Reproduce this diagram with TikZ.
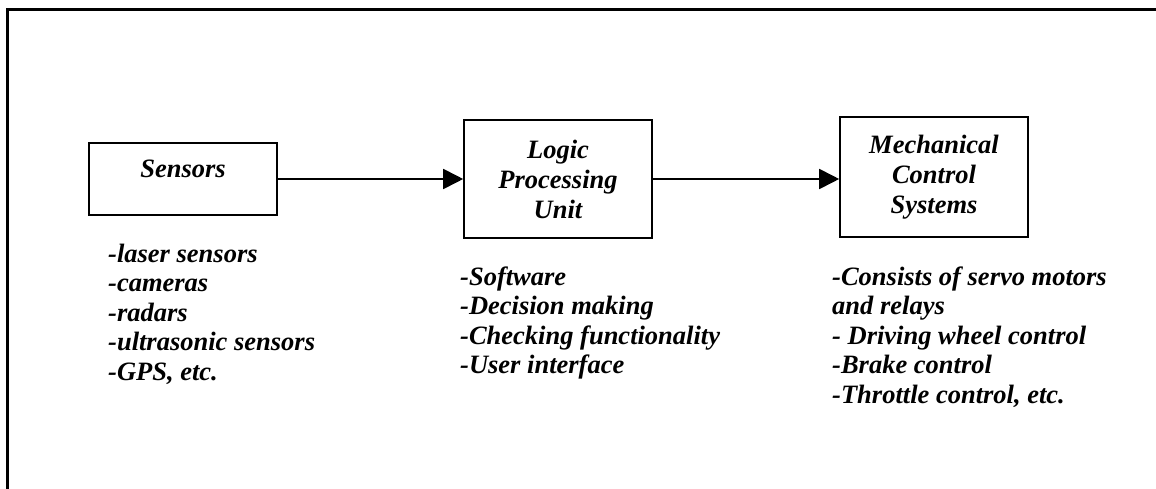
\documentclass[tikz,border=0pt]{standalone}
\usepackage{fontspec}
\setmainfont{Liberation Serif}
\usetikzlibrary{arrows.meta}
\newcommand{\blockfont}{\fontsize{26.5}{30}\selectfont\bfseries\itshape}
\newcommand{\listfont}{\fontsize{26.5}{29.5}\selectfont\bfseries\itshape}
\tikzset{
  block/.style={draw, line width=1.6pt, minimum width=188pt, inner sep=0pt,
                align=center, font=\blockfont},
  itemlist/.style={anchor=base west, inner sep=0pt, font=\listfont},
  flow/.style={line width=1.8pt, -{Triangle[length=20pt,width=20pt]}},
  frameline/.style={line width=2.5pt, line cap=rect}
}
\begin{document}
\begin{tikzpicture}[x=1pt, y=-1pt]
  \useasboundingbox (0,0) rectangle (1156,489);
  % outer frame (only top and left edges fall inside the page)
  \draw[frameline] (7.5,489) -- (7.5,9.5) -- (1156,9.5);

  % blocks
  \node[block, minimum height=72pt, text height=17pt, text depth=19pt]
    (sens) at (183,179) {Sensors};
  \node[block, minimum height=118pt] (lpu) at (558,179)
    {Logic\\Processing\\Unit};
  \node[block, minimum height=120pt] (mcs) at (934,177)
    {Mechanical\\Control\\Systems};

  % connectors
  \draw[flow] (sens.east) -- (lpu.west);
  \draw[flow] (lpu.east) -- (lpu.east -| mcs.west);

  % descriptions
  \node[itemlist] (senslist) at (108,262) {\begin{tabular}[t]{@{}l@{}}
    -laser sensors\\ -cameras\\ -radars\\ -ultrasonic sensors\\ -GPS, etc.
  \end{tabular}};
  \node[itemlist] (lpulist) at (460,285) {\begin{tabular}[t]{@{}l@{}}
    -Software\\ -Decision making\\ -Checking functionality\\ -User interface
  \end{tabular}};
  \node[itemlist] (mcslist) at (832,285) {\begin{tabular}[t]{@{}l@{}}
    -Consists of servo motors\\ and relays\\ - Driving wheel control\\
    -Brake control\\ -Throttle control, etc.
  \end{tabular}};
\end{tikzpicture}
\end{document}
